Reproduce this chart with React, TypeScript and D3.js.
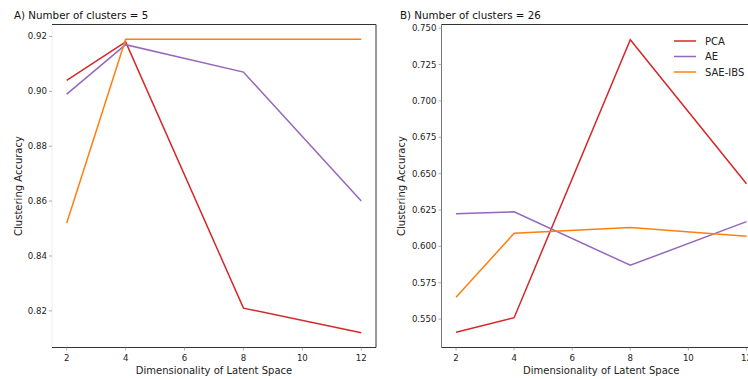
import React from "react";
import * as d3 from "d3";

const dims = [2, 4, 8, 12];
const xTicks = [2, 4, 6, 8, 10, 12];
const seriesNames = ["PCA", "AE", "SAE-IBS"];
const colors = ["#d62728", "#9467bd", "#ff7f0e"];

const pcaA = [0.904, 0.918, 0.821, 0.812];
const aeA = [0.899, 0.917, 0.907, 0.86];
const saeA = [0.852, 0.919, 0.919, 0.919];
const yTicksA = [0.82, 0.84, 0.86, 0.88, 0.9, 0.92];

const pcaB = [0.541, 0.551, 0.742, 0.643];
const aeB = [0.6225, 0.6238, 0.587, 0.617];
const saeB = [0.565, 0.609, 0.613, 0.607];
const yTicksB = [0.55, 0.575, 0.6, 0.625, 0.65, 0.675, 0.7, 0.725, 0.75];

const FONT = "DejaVu Sans, sans-serif";

type PanelProps = {
  left: number;
  right: number;
  top: number;
  bottom: number;
  xDomainRight: number;
  yDomain: [number, number];
  yTicks: number[];
  yFmt: (v: number) => string;
  series: number[][];
  title: string;
  titleX: number;
  yLabelX: number;
  spines: { top: string; right: string | null; bottom: string; left: string };
  legend?: boolean;
};

function Panel(p: PanelProps) {
  const x = d3.scaleLinear().domain([1.5, 12.5]).range([p.left, p.xDomainRight]);
  const y = d3.scaleLinear().domain(p.yDomain).range([p.bottom, p.top]);
  const line = d3
    .line<number>()
    .x((_, i) => x(dims[i]))
    .y((d) => y(d));
  const rightEdge = Math.min(p.right, p.xDomainRight);
  return (
    <g>
      <text x={p.titleX} y={19} fontFamily={FONT} fontSize={10.3} fill="#111">
        {p.title}
      </text>
      {/* spines */}
      <line x1={p.left} x2={p.left} y1={p.top} y2={p.bottom} stroke={p.spines.left} strokeWidth={1} />
      <line x1={p.left} x2={rightEdge} y1={p.top} y2={p.top} stroke={p.spines.top} strokeWidth={1} />
      <line x1={p.left} x2={rightEdge} y1={p.bottom} y2={p.bottom} stroke={p.spines.bottom} strokeWidth={1} />
      {p.spines.right && (
        <line x1={rightEdge} x2={rightEdge} y1={p.top} y2={p.bottom} stroke={p.spines.right} strokeWidth={1} />
      )}
      {/* y ticks */}
      {p.yTicks.map((t) => (
        <g key={t}>
          <line x1={p.left - 3} x2={p.left} y1={y(t)} y2={y(t)} stroke="#999" strokeWidth={0.8} />
          <text
            x={p.left - 5}
            y={y(t)}
            dy="0.35em"
            textAnchor="end"
            fontFamily={FONT}
            fontSize={8.6}
            fill="#222"
          >
            {p.yFmt(t)}
          </text>
        </g>
      ))}
      {/* x ticks */}
      {xTicks.map((t) => (
        <g key={t}>
          <line x1={x(t)} x2={x(t)} y1={p.bottom} y2={p.bottom + 3} stroke="#999" strokeWidth={0.8} />
          <text x={x(t)} y={p.bottom + 13} textAnchor="middle" fontFamily={FONT} fontSize={8.6} fill="#222">
            {t}
          </text>
        </g>
      ))}
      <text
        x={(p.left + p.xDomainRight) / 2}
        y={374}
        textAnchor="middle"
        fontFamily={FONT}
        fontSize={10}
        fill="#222"
      >
        Dimensionality of Latent Space
      </text>
      <text
        transform={`translate(${p.yLabelX},${(p.top + p.bottom) / 2}) rotate(-90)`}
        textAnchor="middle"
        dy="0.35em"
        fontFamily={FONT}
        fontSize={10}
        fill="#222"
      >
        Clustering Accuracy
      </text>
      {p.series.map((s, i) => (
        <path key={i} d={line(s) || ""} fill="none" stroke={colors[i]} strokeWidth={1.5} />
      ))}
      {p.legend &&
        seriesNames.map((n, i) => (
          <g key={n}>
            <line x1={674} x2={696} y1={41 + i * 15.5} y2={41 + i * 15.5} stroke={colors[i]} strokeWidth={1.5} />
            <text x={705} y={41 + i * 15.5} dy="0.35em" fontFamily={FONT} fontSize={10} fill="#222">
              {n}
            </text>
          </g>
        ))}
    </g>
  );
}

export default function App() {
  return (
    <svg
      width={748}
      height={379}
      style={{ position: "absolute", left: 0, top: 0, background: "#fff" }}
    >
      <rect width={748} height={379} fill="#fff" />
      <Panel
        left={52}
        right={376}
        top={24.5}
        bottom={347.5}
        xDomainRight={376}
        yDomain={[0.80665, 0.92435]}
        yTicks={yTicksA}
        yFmt={d3.format(".2f")}
        series={[pcaA, aeA, saeA]}
        title="A) Number of clusters = 5"
        titleX={14}
        yLabelX={18}
        spines={{ top: "#333", right: "#333", bottom: "#333", left: "#eee" }}
      />
      <Panel
        left={441.5}
        right={748}
        top={24.5}
        bottom={347.5}
        xDomainRight={761}
        yDomain={[0.5305, 0.7525]}
        yTicks={yTicksB}
        yFmt={d3.format(".3f")}
        series={[pcaB, aeB, saeB]}
        title="B) Number of clusters = 26"
        titleX={400}
        yLabelX={401}
        spines={{ top: "#333", right: null, bottom: "#333", left: "#777" }}
        legend
      />
    </svg>
  );
}
